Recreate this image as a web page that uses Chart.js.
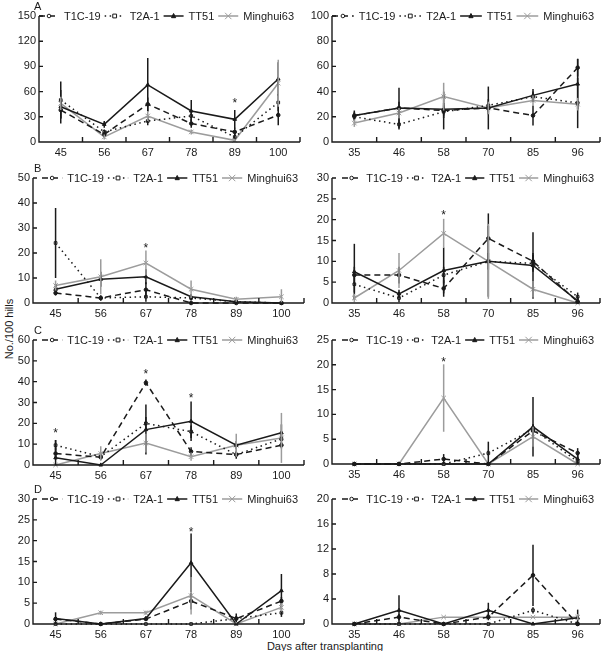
<!DOCTYPE html>
<html lang="en">
<head>
<meta charset="utf-8">
<title>No./100 hills</title>
<script src="https://cdn.jsdelivr.net/npm/chart.js@4.4.1/dist/chart.umd.min.js"></script>
<style>
  body { margin: 0; background: #fff; width: 609px; height: 651px; position: relative; overflow: hidden;
         font-family: "Liberation Sans", Arial, sans-serif; color: #1a1a1a; }
  canvas { position: absolute; }
  #ytitle { position: absolute; left: -41px; top: 322px; width: 100px; text-align: center;
            transform: rotate(-90deg); font-size: 11px; line-height: 14px; }
  #xtitle { position: absolute; left: 225px; width: 200px; top: 639px; text-align: center;
            font-size: 11px; line-height: 14px; }
</style>
</head>
<body>
<div id="ytitle">No./100 hills</div>
<div id="xtitle">Days after transplanting</div>

<script>
// ---- data ----
var series = ['T1C-19', 'T2A-1', 'TT51', 'Minghui63'];
var daysL = ['45', '56', '67', '78', '89', '100'];
var daysR = ['35', '46', '58', '70', '85', '96'];

// rows: T1C-19, T2A-1, TT51, Minghui63
var valAL = [[38, 9, 45, 22, 12, 32], [50, 12, 25, 31, 6, 47], [42, 21, 68, 37, 27, 75], [46, 6, 31, 12, 2, 70]];
var errAL = [[10, 3, 8, 5, 5, 12], [22, 3, 5, 6, 4, 10], [20, 4, 32, 13, 11, 20], [8, 3, 6, 3, 2, 28]];
var starAL = [null, null, null, null, 48, null];
var yAL = [0, 30, 60, 90, 120, 150];

var valAR = [[21, 27, 25, 27, 21, 59], [20, 14, 24, 29, 36, 31], [21, 27, 26, 27, 37, 46], [15, 23, 36, 27, 33, 30]];
var errAR = [[3, 5, 15, 5, 8, 7], [3, 4, 5, 5, 4, 20], [4, 16, 5, 17, 5, 20], [3, 4, 11, 5, 4, 5]];
var starAR = [null, null, null, null, null, null];
var yAR = [0, 20, 40, 60, 80, 100];

var valBL = [[4, 2, 5.3, 0, 0, 0], [24, 2, 2.5, 2, 0.5, 0], [5.5, 9.5, 10.5, 2.5, 0.5, 0], [7, 10.5, 16, 5.5, 1.5, 2.5]];
var errBL = [[1, 1, 3, 0.5, 0, 0], [14, 1, 2, 1, 0.5, 0], [2, 3, 3, 1, 0.5, 0], [2, 7, 5, 3.5, 1, 3]];
var starBL = [null, null, 22.5, null, null, null];
var yBL = [0, 10, 20, 30, 40, 50];

var valBR = [[6.7, 6.7, 3.5, 15.5, 10, 0.3], [4.5, 1.2, 6.7, 10, 9.5, 1.5], [7.5, 2.2, 7.8, 10, 9, 0.5], [1.2, 7.8, 16.7, 10, 3.3, 0]];
var errBR = [[2, 2, 2, 6, 2, 1], [2, 1, 2, 2, 2, 1], [6.7, 1, 5.5, 8.5, 8, 1], [1, 4.2, 3.5, 9, 2, 0]];
var starBR = [null, null, 21.5, null, null, null];
var yBR = [0, 5, 10, 15, 20, 25, 30];

var valCL = [[5.5, 3.7, 39.5, 6.5, 5, 9.5], [9.5, 4, 20, 16, 5, 12.5], [3.5, 0, 17, 21, 9.5, 15.5], [0, 5.5, 10.5, 4, 9.5, 13]];
var errCL = [[3, 1, 1.5, 2, 1, 1.5], [2.5, 1, 3, 3, 2, 3], [8.5, 0, 12, 9.5, 2, 4], [0, 3.5, 4.5, 2, 5.5, 12]];
var starCL = [16, null, 44.5, 33, null, null];
var yCL = [0, 10, 20, 30, 40, 50, 60];

var valCR = [[0, 0, 1, 0, 6.7, 2.2], [0, 0, 0, 2.2, 7, 0.5], [0, 0, 0, 0, 7.5, 1], [0, 0, 13.3, 0, 5.5, 0]];
var errCR = [[0, 0, 1, 0, 1, 1], [0, 0, 0, 0.5, 1, 0.5], [0, 0, 0, 4.5, 6, 1], [0, 0, 6.8, 0, 2, 0]];
var starCR = [null, null, 20.8, null, null, null];
var yCR = [0, 5, 10, 15, 20, 25];

var valDL = [[1.2, 0, 1.2, 5.5, 1.3, 5.5], [0, 0, 0, 0, 1.3, 2.7], [1.3, 0, 1.3, 14.7, 0, 8], [0, 2.7, 2.7, 6.8, 0, 4]];
var errDL = [[0.5, 0, 0.5, 2, 0.5, 1], [0, 0, 0, 0, 0.5, 1], [1.5, 0, 0.5, 7, 2.5, 4], [0, 0.5, 0.5, 4.5, 0.5, 1]];
var starDL = [null, null, null, 22.5, null, null];
var yDL = [0, 5, 10, 15, 20, 25, 30];

var valDR = [[0, 1.1, 0, 1.1, 7.8, 0], [0, 0, 0, 0, 2.2, 0], [0, 2.2, 0, 2.2, 0, 1], [0, 0, 1.1, 1.1, 1.1, 1.1]];
var errDR = [[0, 0.5, 0, 0.5, 4.9, 0], [0, 0, 0, 0, 0.5, 0], [0, 2.4, 0, 1.2, 0, 1.3], [0, 0, 0, 0, 0, 0.5]];
var starDR = [null, null, null, null, null, null];
var yDR = [0, 4, 8, 12, 16, 20];

// ---- styles ----
var FONT = '"Liberation Sans", Arial, sans-serif';
var INK = '#1a1a1a';
var GREY = '#9c9c9c';
var looks = [
  { color: INK, dash: [6, 4], marker: 'circle', fill: INK, r: 1.8 },
  { color: INK, dash: [1.5, 3.5], marker: 'rect', fill: '#fff', r: 1.9 },
  { color: INK, dash: [], marker: 'triangle', fill: INK, r: 2.1 },
  { color: GREY, dash: [], marker: 'crossRot', fill: GREY, r: 3.2 }
];

function drawMarker(ctx, lk, x, y, hollow) {
  ctx.save();
  ctx.setLineDash([]);
  ctx.lineWidth = 1;
  ctx.strokeStyle = lk.color;
  ctx.fillStyle = hollow ? '#fff' : lk.fill;
  var r = lk.r;
  ctx.beginPath();
  if (lk.marker === 'circle') {
    ctx.arc(x, y, r, 0, Math.PI * 2); ctx.fill(); ctx.stroke();
  } else if (lk.marker === 'rect') {
    ctx.rect(x - r, y - r, 2 * r, 2 * r); ctx.fill(); ctx.stroke();
  } else if (lk.marker === 'triangle') {
    ctx.moveTo(x, y - r * 1.2); ctx.lineTo(x + r, y + r * 0.8); ctx.lineTo(x - r, y + r * 0.8);
    ctx.closePath(); ctx.fill(); ctx.stroke();
  } else {
    ctx.moveTo(x - r, y - r); ctx.lineTo(x + r, y + r);
    ctx.moveTo(x + r, y - r); ctx.lineTo(x - r, y + r); ctx.stroke();
  }
  ctx.restore();
}

// axes with inward ticks, error bars, stars, legend, panel letter
var decor = {
  id: 'decor',
  afterDatasetsDraw: function (chart) {
    var ctx = chart.ctx, y = chart.scales.y;
    ctx.save();
    chart.data.datasets.forEach(function (ds, i) {
      var meta = chart.getDatasetMeta(i);
      ctx.strokeStyle = looks[i].color;
      ctx.lineWidth = 1.5;
      ds.data.forEach(function (v, j) {
        var e = ds.errorBars[j];
        if (!e) return;
        var px = meta.data[j].x;
        ctx.beginPath();
        ctx.moveTo(px, y.getPixelForValue(Math.max(0, v - e)));
        ctx.lineTo(px, y.getPixelForValue(v + e));
        ctx.stroke();
      });
    });
    ctx.restore();
  },
  afterDraw: function (chart, args, o) {
    var ctx = chart.ctx, a = chart.chartArea, x = chart.scales.x, y = chart.scales.y;
    ctx.save();
    ctx.strokeStyle = INK;
    ctx.lineWidth = 1.4;
    ctx.setLineDash([]);
    ctx.beginPath();
    ctx.moveTo(a.left, a.top); ctx.lineTo(a.left, a.bottom); ctx.lineTo(a.right, a.bottom);
    y.ticks.forEach(function (t) {
      var py = y.getPixelForValue(t.value);
      ctx.moveTo(a.left, py); ctx.lineTo(a.left + 4, py);
    });
    var n = chart.data.labels.length, w = (a.right - a.left) / n;
    for (var k = 0; k <= n; k++) {
      var px = a.left + k * w;
      ctx.moveTo(px, a.bottom); ctx.lineTo(px, a.bottom - 5);
    }
    ctx.stroke();

    // stars
    ctx.fillStyle = INK;
    ctx.font = '12px ' + FONT;
    ctx.textAlign = 'center';
    ctx.textBaseline = 'middle';
    o.stars.forEach(function (v, j) {
      if (v == null) return;
      ctx.fillText('*', x.getPixelForValue(j), y.getPixelForValue(v) + 2);
    });

    // panel letter
    if (o.letter) {
      ctx.font = '11px ' + FONT;
      ctx.textAlign = 'left';
      ctx.fillText(o.letter, o.letterX, a.top - 9);
    }

    // legend
    ctx.font = '11px ' + FONT;
    ctx.textAlign = 'left';
    var widths = series.map(function (s) { return ctx.measureText(s).width; });
    var textSum = widths.reduce(function (p, c) { return p + c; }, 0);
    var startX = a.left + o.inset, endX = a.right - 2;
    var slot = (endX - startX - textSum) / 4;
    var sample = slot - 9;
    var cx = startX, ly = a.top;
    series.forEach(function (s, i) {
      var lk = looks[i];
      ctx.strokeStyle = lk.color;
      ctx.lineWidth = 1.5;
      ctx.setLineDash(lk.dash);
      ctx.beginPath(); ctx.moveTo(cx, ly); ctx.lineTo(cx + sample, ly); ctx.stroke();
      drawMarker(ctx, lk, cx + sample / 2, ly, i < 2);
      ctx.fillStyle = INK;
      ctx.fillText(s, cx + sample + 5, ly + 0.5);
      cx += sample + 5 + widths[i] + 4;
    });
    ctx.restore();
  }
};

var panels = [
  { left: 0, top: 0, w: 306, h: 160, plot: [39, 16, 300, 142], cats: daysL, vals: valAL, errs: errAL, stars: starAL, ticks: yAL, letter: 'A', inset: 0 },
  { left: 306, top: 0, w: 303, h: 160, plot: [332, 16, 600, 142], cats: daysR, vals: valAR, errs: errAR, stars: starAR, ticks: yAR, letter: null, inset: 0 },
  { left: 0, top: 160, w: 306, h: 162, plot: [33, 178, 304, 303], cats: daysL, vals: valBL, errs: errBL, stars: starBL, ticks: yBL, letter: 'B', inset: 9 },
  { left: 306, top: 160, w: 303, h: 162, plot: [332, 178, 600, 303], cats: daysR, vals: valBR, errs: errBR, stars: starBR, ticks: yBR, letter: null, inset: 10 },
  { left: 0, top: 322, w: 306, h: 160, plot: [33, 340, 304, 465], cats: daysL, vals: valCL, errs: errCL, stars: starCL, ticks: yCL, letter: 'C', inset: 9 },
  { left: 306, top: 322, w: 303, h: 160, plot: [332, 340, 600, 464], cats: daysR, vals: valCR, errs: errCR, stars: starCR, ticks: yCR, letter: null, inset: 10 },
  { left: 0, top: 482, w: 306, h: 158, plot: [33, 499, 304, 624], cats: daysL, vals: valDL, errs: errDL, stars: starDL, ticks: yDL, letter: 'D', inset: 9 },
  { left: 306, top: 482, w: 303, h: 158, plot: [332, 499, 600, 624], cats: daysR, vals: valDR, errs: errDR, stars: starDR, ticks: yDR, letter: null, inset: 10 }
];

panels.forEach(function (p) {
  var cv = document.createElement('canvas');
  cv.width = p.w; cv.height = p.h;
  cv.style.left = p.left + 'px'; cv.style.top = p.top + 'px';
  cv.style.width = p.w + 'px'; cv.style.height = p.h + 'px';
  document.body.appendChild(cv);

  var yW = p.plot[0] - p.left;
  var xH = p.top + p.h - p.plot[3];
  var yTicks = p.ticks;

  new Chart(cv.getContext('2d'), {
    type: 'line',
    data: {
      labels: p.cats,
      datasets: series.map(function (s, i) {
        var lk = looks[i];
        return {
          label: s,
          data: p.vals[i],
          errorBars: p.errs[i],
          borderColor: lk.color,
          borderDash: lk.dash,
          borderWidth: 1.5,
          pointStyle: lk.marker,
          pointRadius: lk.r,
          pointBackgroundColor: lk.fill,
          pointBorderColor: lk.color,
          pointBorderWidth: 1,
          tension: 0,
          clip: false
        };
      })
    },
    options: {
      responsive: false,
      animation: false,
      devicePixelRatio: 1,
      layout: { autoPadding: false, padding: { left: 0, top: p.plot[1] - p.top, right: p.left + p.w - p.plot[2], bottom: 0 } },
      plugins: {
        legend: { display: false },
        tooltip: { enabled: false },
        decor: { stars: p.stars, letter: p.letter, letterX: 34, inset: p.inset }
      },
      scales: {
        x: {
          type: 'category',
          offset: true,
          grid: { display: false, drawTicks: false },
          border: { display: false },
          ticks: { color: INK, font: { family: FONT, size: 11 }, padding: 4, maxRotation: 0, autoSkip: false },
          afterFit: function (s) { s.height = xH; }
        },
        y: {
          min: 0,
          max: yTicks[yTicks.length - 1],
          grid: { display: false, drawTicks: false },
          border: { display: false },
          ticks: { color: INK, font: { family: FONT, size: 11 }, padding: 3 },
          afterBuildTicks: function (s) { s.ticks = yTicks.map(function (v) { return { value: v }; }); },
          afterFit: function (s) { s.width = yW; }
        }
      }
    },
    plugins: [decor]
  });
});
</script>
</body>
</html>
